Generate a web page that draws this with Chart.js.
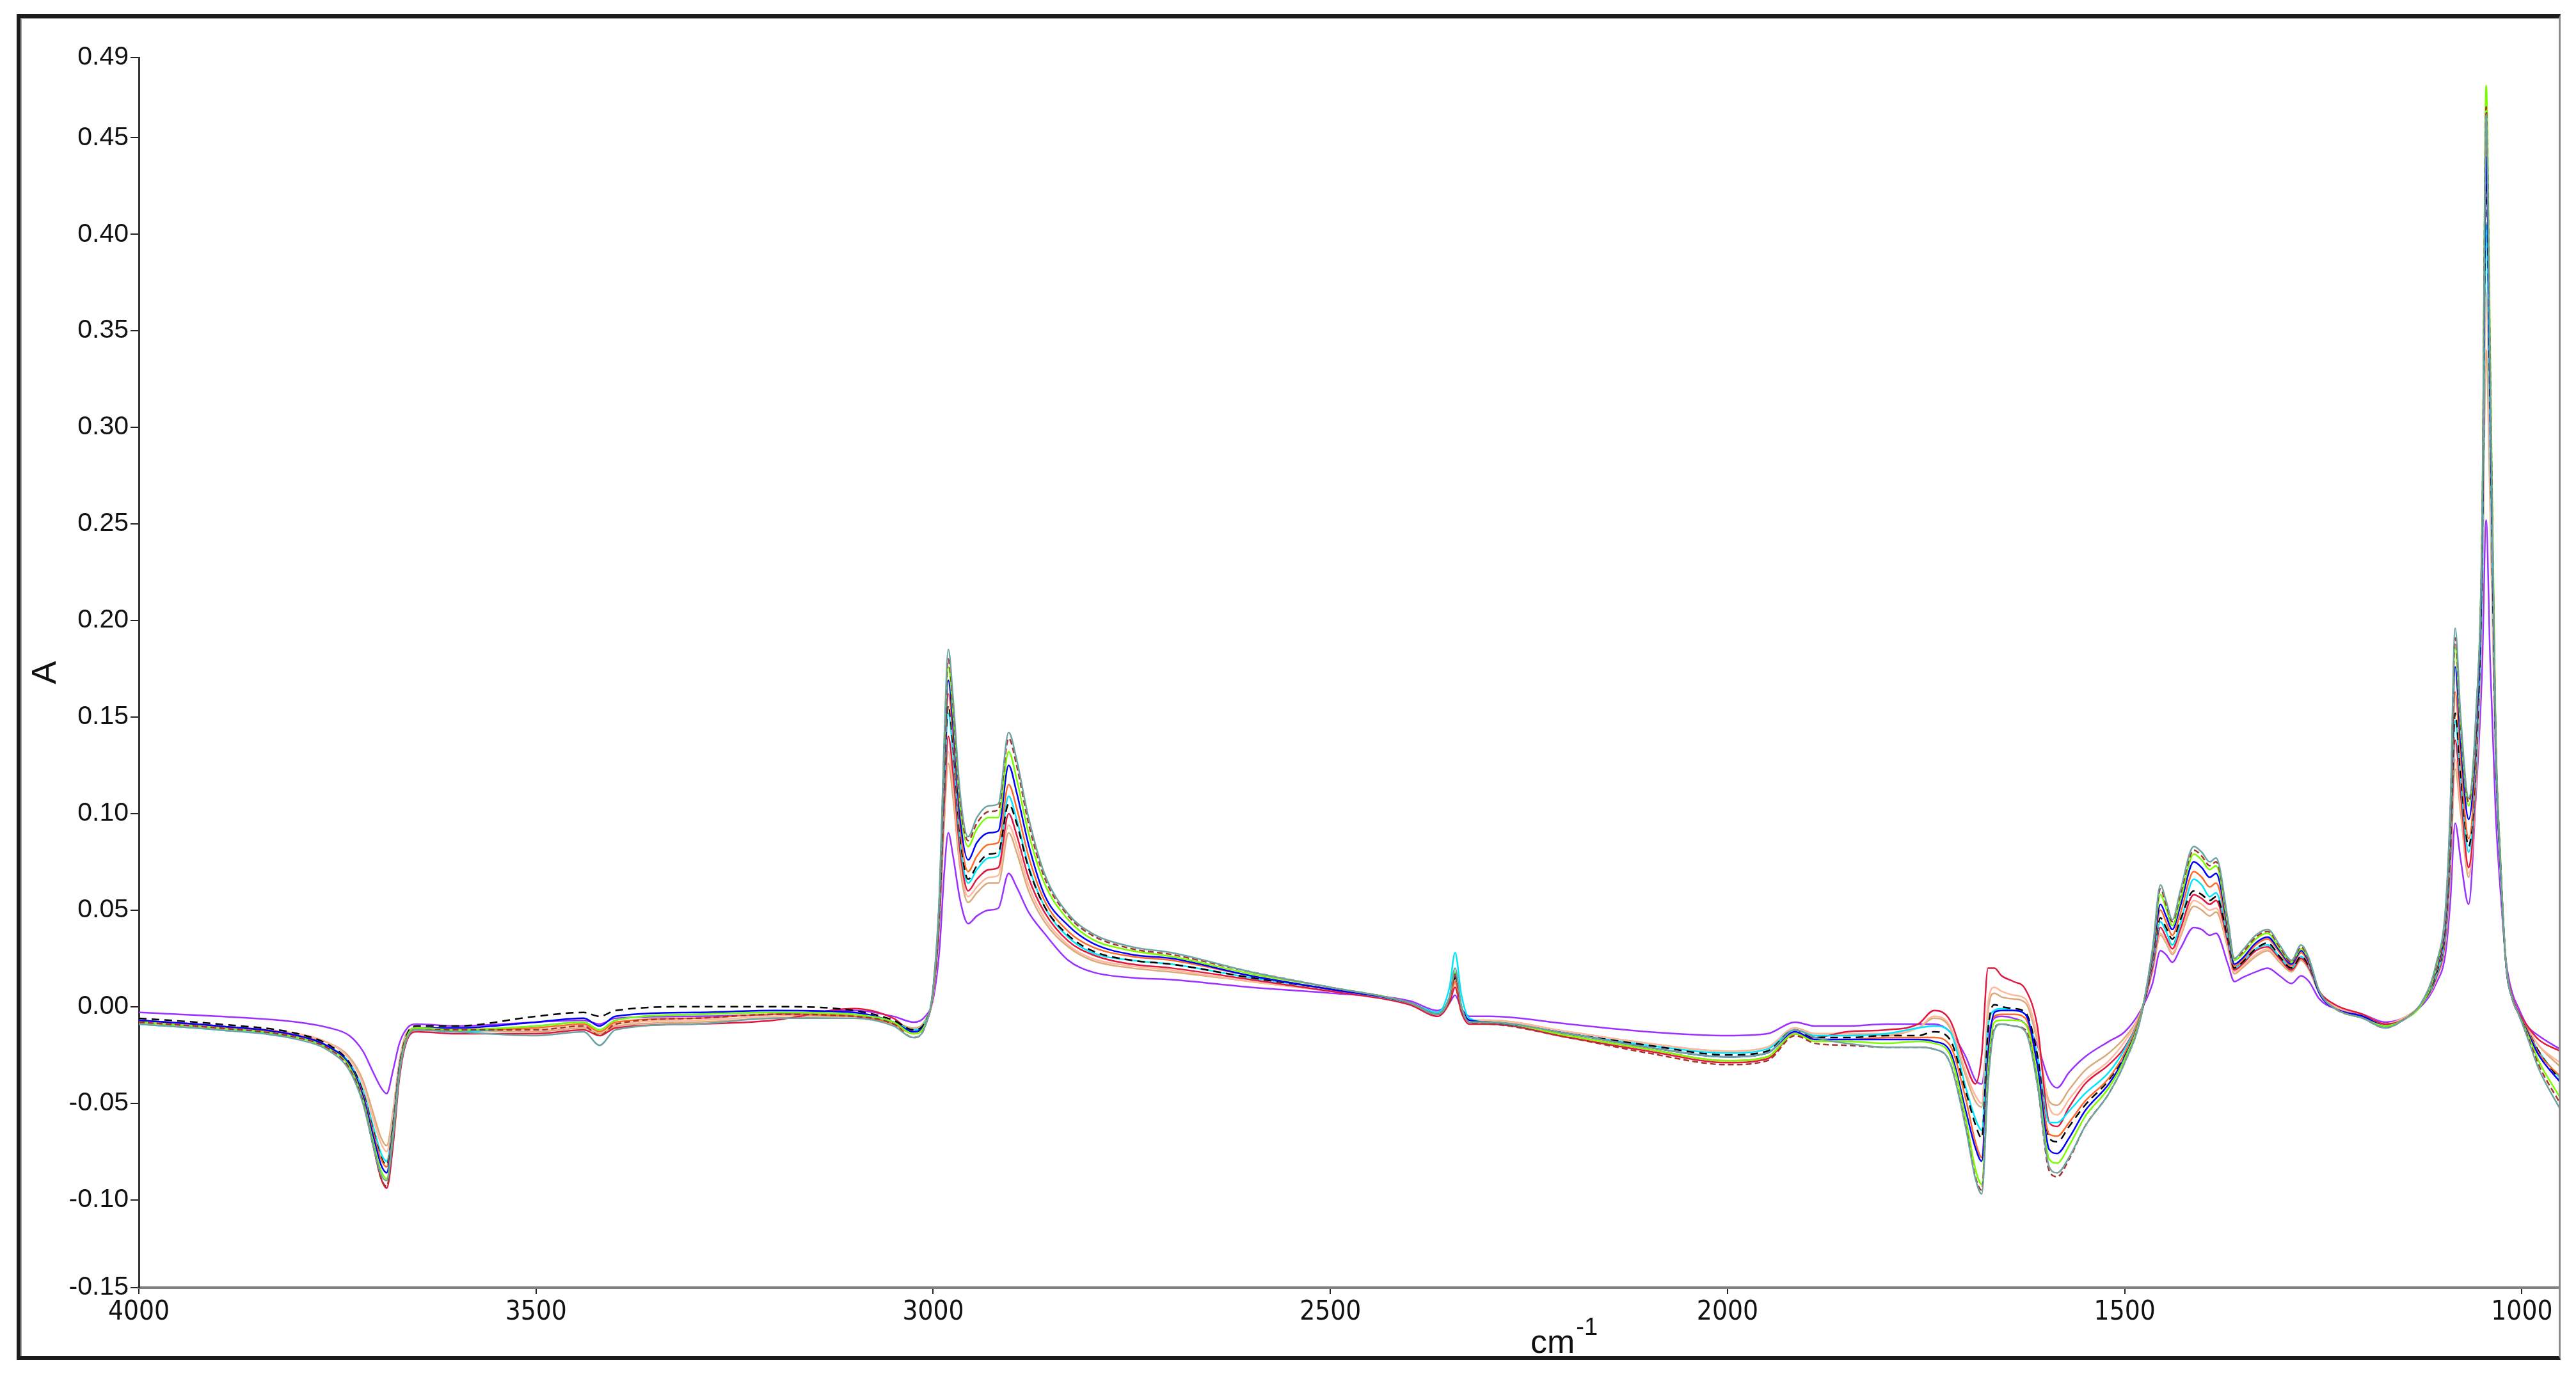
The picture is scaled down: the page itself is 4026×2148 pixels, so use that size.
<!DOCTYPE html>
<html>
<head>
<meta charset="utf-8">
<title>FTIR spectra</title>
<script src="https://cdn.jsdelivr.net/npm/chart.js@4.4.1/dist/chart.umd.min.js"></script>
<style>
  html, body { margin: 0; padding: 0; background: #fff; }
  #wrap { position: relative; width: 4026px; height: 2148px; }
  #spectra { position: absolute; left: 0; top: 0; }
  #frame {
    position: absolute; left: 26px; top: 22px; width: 3967px; height: 2092px;
    border-style: solid; border-width: 6px 3px 6px 6px;
    border-color: #1c1c1c #8c8c8c #1c1c1c #1c1c1c;
    box-shadow: inset 2px 2px 0 #a0a0a0;
    pointer-events: none;
  }
</style>
</head>
<body>
<div id="wrap">
  <canvas id="spectra" width="4026" height="2148"></canvas>
  <div id="frame"></div>
</div>
<script>
// wavenumbers (cm-1), shared by every spectrum
var wavenumbers = [
  4000, 3900, 3800, 3760, 3735, 3718, 3705, 3695, 3688, 3680,
  3672, 3662, 3650, 3600, 3500, 3440, 3420, 3400, 3300, 3200,
  3100, 3050, 3025, 3010, 3000, 2992, 2986, 2981, 2975, 2966,
  2956, 2945, 2930, 2918, 2905, 2895, 2880, 2860, 2830, 2800,
  2750, 2700, 2600, 2500, 2400, 2365, 2350, 2343, 2335, 2325,
  2300, 2200, 2100, 2000, 1950, 1915, 1890, 1850, 1800, 1760,
  1740, 1720, 1700, 1688, 1680, 1672, 1664, 1655, 1640, 1625,
  1610, 1595, 1585, 1570, 1550, 1520, 1500, 1480, 1465, 1455,
  1448, 1440, 1430, 1413, 1403, 1393, 1385, 1370, 1362, 1352,
  1335, 1320, 1305, 1290, 1278, 1268, 1255, 1235, 1200, 1172,
  1150, 1125, 1108, 1096, 1090, 1084, 1077, 1067, 1058, 1050,
  1045, 1040, 1033, 1027, 1020, 1012, 1005, 993, 979, 952
];

var tealSpec = [
  -0.009, -0.012, -0.017, -0.023, -0.033, -0.050, -0.072, -0.087, -0.090, -0.068,
  -0.035, -0.016, -0.012, -0.013, -0.015, -0.013, -0.020, -0.012, -0.009, -0.006,
  -0.006, -0.010, -0.016, -0.010, 0.010, 0.060, 0.140, 0.185, 0.160, 0.110,
  0.088, 0.098, 0.104, 0.105, 0.142, 0.128, 0.098, 0.069, 0.048, 0.038,
  0.031, 0.028, 0.018, 0.010, 0.002, -0.004, 0.005, 0.020, 0.000, -0.008,
  -0.008, -0.014, -0.021, -0.026, -0.024, -0.012, -0.016, -0.019, -0.021, -0.021,
  -0.022, -0.029, -0.063, -0.089, -0.097, -0.040, -0.012, -0.009, -0.010, -0.013,
  -0.040, -0.083, -0.086, -0.078, -0.062, -0.045, -0.029, -0.006, 0.030, 0.063,
  0.055, 0.045, 0.060, 0.083, 0.080, 0.075, 0.077, 0.045, 0.025, 0.029,
  0.037, 0.040, 0.032, 0.024, 0.032, 0.025, 0.008, -0.001, -0.006, -0.011,
  -0.007, 0.003, 0.022, 0.052, 0.105, 0.196, 0.150, 0.108, 0.150, 0.250,
  0.462, 0.330, 0.140, 0.075, 0.022, 0.004, -0.003, -0.016, -0.032, -0.053
];
var brownSpec = [
  -0.008, -0.011, -0.016, -0.022, -0.032, -0.049, -0.072, -0.089, -0.093, -0.070,
  -0.036, -0.016, -0.012, -0.012, -0.012, -0.010, -0.015, -0.009, -0.006, -0.004,
  -0.005, -0.009, -0.016, -0.010, 0.010, 0.058, 0.136, 0.180, 0.156, 0.106,
  0.086, 0.095, 0.101, 0.102, 0.139, 0.125, 0.095, 0.067, 0.047, 0.037,
  0.030, 0.027, 0.018, 0.010, 0.002, -0.004, 0.004, 0.016, -0.001, -0.008,
  -0.009, -0.016, -0.024, -0.030, -0.028, -0.015, -0.019, -0.020, -0.021, -0.021,
  -0.022, -0.029, -0.062, -0.088, -0.095, -0.038, -0.011, -0.009, -0.010, -0.012,
  -0.040, -0.085, -0.088, -0.079, -0.062, -0.045, -0.029, -0.006, 0.029, 0.061,
  0.053, 0.044, 0.058, 0.081, 0.078, 0.073, 0.075, 0.044, 0.025, 0.028,
  0.036, 0.039, 0.031, 0.023, 0.031, 0.024, 0.008, -0.001, -0.006, -0.011,
  -0.007, 0.003, 0.021, 0.050, 0.102, 0.191, 0.146, 0.106, 0.148, 0.250,
  0.466, 0.335, 0.142, 0.076, 0.022, 0.004, -0.003, -0.015, -0.030, -0.050
];
var greenSpec = [
  -0.008, -0.011, -0.016, -0.022, -0.031, -0.048, -0.070, -0.085, -0.089, -0.066,
  -0.034, -0.015, -0.011, -0.012, -0.010, -0.008, -0.012, -0.007, -0.004, -0.003,
  -0.004, -0.008, -0.014, -0.009, 0.009, 0.057, 0.133, 0.176, 0.152, 0.103,
  0.083, 0.092, 0.098, 0.098, 0.132, 0.118, 0.090, 0.064, 0.045, 0.035,
  0.029, 0.026, 0.017, 0.010, 0.002, -0.004, 0.005, 0.018, 0.000, -0.008,
  -0.008, -0.015, -0.022, -0.028, -0.026, -0.014, -0.018, -0.018, -0.019, -0.018,
  -0.019, -0.025, -0.058, -0.084, -0.092, -0.032, -0.008, -0.007, -0.007, -0.009,
  -0.036, -0.079, -0.081, -0.072, -0.057, -0.042, -0.027, -0.005, 0.028, 0.058,
  0.051, 0.042, 0.055, 0.079, 0.076, 0.071, 0.073, 0.042, 0.024, 0.027,
  0.035, 0.038, 0.030, 0.023, 0.030, 0.024, 0.008, -0.001, -0.006, -0.010,
  -0.007, 0.002, 0.020, 0.049, 0.099, 0.186, 0.143, 0.104, 0.146, 0.255,
  0.477, 0.345, 0.145, 0.077, 0.023, 0.004, -0.003, -0.014, -0.028, -0.047
];
var blueSpec = [
  -0.007, -0.010, -0.015, -0.021, -0.030, -0.046, -0.067, -0.082, -0.086, -0.064,
  -0.033, -0.015, -0.011, -0.011, -0.008, -0.006, -0.010, -0.005, -0.003, -0.002,
  -0.003, -0.008, -0.013, -0.009, 0.009, 0.055, 0.128, 0.169, 0.146, 0.097,
  0.076, 0.085, 0.090, 0.091, 0.125, 0.111, 0.084, 0.058, 0.042, 0.033,
  0.027, 0.025, 0.016, 0.009, 0.002, -0.004, 0.005, 0.017, 0.000, -0.007,
  -0.008, -0.014, -0.021, -0.026, -0.024, -0.013, -0.017, -0.017, -0.017, -0.017,
  -0.018, -0.023, -0.054, -0.073, -0.080, -0.025, -0.003, -0.002, -0.002, -0.004,
  -0.030, -0.074, -0.076, -0.068, -0.054, -0.040, -0.026, -0.005, 0.026, 0.053,
  0.047, 0.040, 0.052, 0.075, 0.072, 0.067, 0.069, 0.040, 0.022, 0.025,
  0.033, 0.036, 0.029, 0.022, 0.029, 0.023, 0.007, -0.001, -0.005, -0.010,
  -0.007, 0.002, 0.019, 0.046, 0.094, 0.176, 0.136, 0.097, 0.140, 0.240,
  0.440, 0.320, 0.138, 0.074, 0.022, 0.004, -0.003, -0.013, -0.025, -0.039
];
var orangeSpec = [
  -0.008, -0.011, -0.015, -0.021, -0.030, -0.045, -0.065, -0.079, -0.083, -0.062,
  -0.032, -0.015, -0.012, -0.012, -0.011, -0.009, -0.013, -0.008, -0.006, -0.004,
  -0.005, -0.009, -0.014, -0.009, 0.008, 0.053, 0.123, 0.162, 0.140, 0.092,
  0.070, 0.078, 0.084, 0.085, 0.115, 0.103, 0.078, 0.055, 0.039, 0.031,
  0.026, 0.024, 0.016, 0.009, 0.002, -0.004, 0.004, 0.013, -0.001, -0.008,
  -0.008, -0.015, -0.022, -0.028, -0.026, -0.014, -0.017, -0.017, -0.016, -0.016,
  -0.016, -0.020, -0.048, -0.070, -0.078, -0.022, -0.005, -0.004, -0.004, -0.006,
  -0.030, -0.066, -0.067, -0.060, -0.049, -0.037, -0.024, -0.004, 0.024, 0.050,
  0.044, 0.037, 0.048, 0.070, 0.067, 0.062, 0.064, 0.038, 0.021, 0.024,
  0.032, 0.035, 0.028, 0.021, 0.028, 0.022, 0.007, -0.001, -0.005, -0.010,
  -0.007, 0.002, 0.018, 0.043, 0.088, 0.163, 0.127, 0.087, 0.133, 0.245,
  0.455, 0.330, 0.140, 0.075, 0.022, 0.004, -0.003, -0.012, -0.024, -0.036
];
var blackSpec = [
  -0.006, -0.009, -0.014, -0.020, -0.029, -0.044, -0.064, -0.078, -0.082, -0.061,
  -0.031, -0.014, -0.010, -0.010, -0.005, -0.003, -0.005, -0.002, 0.000, 0.000,
  -0.002, -0.007, -0.012, -0.008, 0.008, 0.051, 0.118, 0.156, 0.135, 0.088,
  0.066, 0.073, 0.079, 0.080, 0.105, 0.095, 0.072, 0.052, 0.037, 0.029,
  0.024, 0.022, 0.015, 0.009, 0.002, -0.004, 0.004, 0.015, 0.000, -0.007,
  -0.008, -0.014, -0.020, -0.025, -0.023, -0.012, -0.016, -0.016, -0.015, -0.015,
  -0.013, -0.017, -0.044, -0.061, -0.068, -0.012, 0.001, 0.000, -0.001, -0.003,
  -0.025, -0.068, -0.070, -0.062, -0.051, -0.038, -0.025, -0.005, 0.023, 0.046,
  0.041, 0.035, 0.045, 0.060, 0.058, 0.055, 0.057, 0.035, 0.020, 0.023,
  0.030, 0.033, 0.026, 0.020, 0.026, 0.021, 0.007, -0.001, -0.005, -0.010,
  -0.007, 0.002, 0.017, 0.041, 0.083, 0.152, 0.120, 0.083, 0.128, 0.235,
  0.430, 0.310, 0.135, 0.073, 0.022, 0.004, -0.003, -0.012, -0.023, -0.038
];
var cyanSpec = [
  -0.009, -0.012, -0.016, -0.021, -0.029, -0.043, -0.062, -0.076, -0.080, -0.060,
  -0.031, -0.015, -0.012, -0.013, -0.010, -0.008, -0.012, -0.007, -0.004, -0.003,
  -0.004, -0.008, -0.012, -0.008, 0.008, 0.050, 0.115, 0.152, 0.131, 0.085,
  0.064, 0.071, 0.077, 0.078, 0.109, 0.097, 0.073, 0.052, 0.036, 0.028,
  0.024, 0.022, 0.015, 0.009, 0.002, -0.003, 0.010, 0.028, 0.006, -0.006,
  -0.008, -0.014, -0.020, -0.024, -0.022, -0.012, -0.015, -0.015, -0.014, -0.011,
  -0.010, -0.013, -0.042, -0.058, -0.064, -0.010, -0.002, -0.001, -0.002, -0.004,
  -0.025, -0.060, -0.060, -0.054, -0.045, -0.034, -0.022, -0.004, 0.022, 0.044,
  0.039, 0.032, 0.043, 0.066, 0.063, 0.057, 0.059, 0.035, 0.020, 0.023,
  0.030, 0.032, 0.026, 0.020, 0.026, 0.021, 0.007, -0.001, -0.005, -0.010,
  -0.007, 0.002, 0.016, 0.039, 0.080, 0.148, 0.117, 0.080, 0.124, 0.225,
  0.405, 0.300, 0.132, 0.072, 0.022, 0.004, -0.003, -0.012, -0.023, -0.037
];
var crimsonSpec = [
  -0.007, -0.010, -0.015, -0.021, -0.031, -0.048, -0.072, -0.089, -0.094, -0.072,
  -0.037, -0.017, -0.013, -0.014, -0.014, -0.012, -0.015, -0.011, -0.009, -0.007,
  -0.001, -0.006, -0.013, -0.009, 0.007, 0.047, 0.106, 0.140, 0.121, 0.080,
  0.060, 0.066, 0.071, 0.072, 0.100, 0.089, 0.067, 0.049, 0.034, 0.027,
  0.022, 0.020, 0.014, 0.008, 0.001, -0.005, 0.002, 0.010, -0.003, -0.009,
  -0.009, -0.016, -0.023, -0.029, -0.027, -0.014, -0.016, -0.013, -0.012, -0.009,
  -0.002, -0.007, -0.030, -0.040, -0.025, 0.020, 0.020, 0.016, 0.013, 0.009,
  -0.010, -0.060, -0.062, -0.052, -0.040, -0.030, -0.021, -0.004, 0.020, 0.041,
  0.036, 0.030, 0.040, 0.058, 0.056, 0.053, 0.055, 0.033, 0.019, 0.022,
  0.029, 0.031, 0.025, 0.019, 0.025, 0.020, 0.008, 0.001, -0.004, -0.009,
  -0.007, 0.002, 0.015, 0.037, 0.076, 0.138, 0.110, 0.072, 0.120, 0.240,
  0.447, 0.320, 0.138, 0.074, 0.023, 0.005, -0.002, -0.010, -0.017, -0.023
];
var salmonSpec = [
  -0.007, -0.010, -0.014, -0.019, -0.027, -0.040, -0.058, -0.071, -0.075, -0.056,
  -0.029, -0.014, -0.011, -0.011, -0.012, -0.010, -0.013, -0.009, -0.007, -0.005,
  -0.004, -0.008, -0.012, -0.008, 0.006, 0.045, 0.100, 0.132, 0.114, 0.075,
  0.057, 0.062, 0.067, 0.068, 0.094, 0.084, 0.063, 0.046, 0.032, 0.025,
  0.021, 0.019, 0.013, 0.008, 0.002, -0.004, 0.004, 0.012, -0.001, -0.007,
  -0.007, -0.013, -0.019, -0.023, -0.021, -0.011, -0.014, -0.014, -0.014, -0.011,
  -0.005, -0.010, -0.034, -0.046, -0.050, 0.002, 0.010, 0.008, 0.006, 0.004,
  -0.015, -0.052, -0.056, -0.048, -0.038, -0.028, -0.018, -0.003, 0.019, 0.038,
  0.034, 0.028, 0.037, 0.055, 0.053, 0.050, 0.051, 0.031, 0.018, 0.021,
  0.027, 0.030, 0.024, 0.019, 0.025, 0.020, 0.007, 0.000, -0.004, -0.009,
  -0.006, 0.002, 0.014, 0.035, 0.071, 0.128, 0.104, 0.069, 0.116, 0.215,
  0.370, 0.280, 0.128, 0.070, 0.022, 0.005, -0.002, -0.011, -0.020, -0.029
];
var tanSpec = [
  -0.008, -0.011, -0.015, -0.019, -0.026, -0.038, -0.055, -0.068, -0.072, -0.054,
  -0.028, -0.013, -0.011, -0.012, -0.013, -0.011, -0.014, -0.010, -0.008, -0.006,
  -0.005, -0.008, -0.011, -0.007, 0.006, 0.043, 0.096, 0.126, 0.108, 0.071,
  0.054, 0.059, 0.064, 0.064, 0.090, 0.080, 0.060, 0.044, 0.031, 0.024,
  0.020, 0.018, 0.013, 0.008, 0.002, -0.003, 0.004, 0.012, -0.001, -0.007,
  -0.007, -0.013, -0.019, -0.023, -0.021, -0.011, -0.014, -0.014, -0.015, -0.011,
  -0.006, -0.011, -0.036, -0.049, -0.052, -0.002, 0.007, 0.005, 0.004, 0.002,
  -0.018, -0.049, -0.051, -0.043, -0.033, -0.024, -0.016, -0.003, 0.018, 0.037,
  0.033, 0.027, 0.036, 0.052, 0.050, 0.047, 0.049, 0.030, 0.017, 0.020,
  0.026, 0.029, 0.023, 0.018, 0.024, 0.019, 0.007, 0.000, -0.004, -0.009,
  -0.006, 0.002, 0.014, 0.034, 0.068, 0.123, 0.100, 0.067, 0.112, 0.205,
  0.340, 0.260, 0.124, 0.068, 0.022, 0.005, -0.002, -0.011, -0.020, -0.031
];
var purpleSpec = [
  -0.003, -0.005, -0.008, -0.011, -0.015, -0.023, -0.034, -0.042, -0.045, -0.033,
  -0.019, -0.011, -0.009, -0.010, -0.008, -0.007, -0.009, -0.006, -0.005, -0.004,
  -0.002, -0.005, -0.008, -0.005, 0.004, 0.030, 0.070, 0.090, 0.078, 0.055,
  0.043, 0.047, 0.050, 0.051, 0.069, 0.062, 0.049, 0.038, 0.024, 0.018,
  0.015, 0.014, 0.010, 0.007, 0.003, -0.002, 0.002, 0.006, -0.001, -0.005,
  -0.005, -0.009, -0.013, -0.015, -0.014, -0.008, -0.010, -0.010, -0.009, -0.009,
  -0.009, -0.013, -0.026, -0.038, -0.040, -0.015, -0.006, -0.005, -0.006, -0.009,
  -0.020, -0.038, -0.042, -0.034, -0.026, -0.018, -0.013, -0.002, 0.012, 0.029,
  0.027, 0.023, 0.030, 0.041, 0.040, 0.037, 0.038, 0.022, 0.013, 0.015,
  0.018, 0.020, 0.016, 0.012, 0.016, 0.013, 0.004, -0.001, -0.004, -0.008,
  -0.006, 0.001, 0.012, 0.028, 0.055, 0.095, 0.076, 0.053, 0.108, 0.175,
  0.252, 0.180, 0.100, 0.060, 0.024, 0.007, 0.000, -0.010, -0.015, -0.022
];

var spectra = [tealSpec, brownSpec, greenSpec, blueSpec, orangeSpec, blackSpec,
               cyanSpec, crimsonSpec, salmonSpec, tanSpec, purpleSpec];
var spectrumColors = ['#6fa3a3', '#a8322d', '#7cfc00', '#0000ff', '#ff6a2a', '#000000',
                      '#00e5ff', '#e0173f', '#ffb89a', '#d9aa7a', '#9b30ff'];
var spectrumDashes = [[], [9, 5], [], [], [], [12, 8], [], [], [], [], []];

var xTickValues = [4000, 3500, 3000, 2500, 2000, 1500, 1000];
var yTickValues = [-0.1455, -0.10, -0.05, 0.00, 0.05, 0.10, 0.15, 0.20, 0.25, 0.30, 0.35, 0.40, 0.45, 0.4915];
var yTickLabels = ['-0.15', '-0.10', '-0.05', '0.00', '0.05', '0.10', '0.15', '0.20', '0.25', '0.30', '0.35', '0.40', '0.45', '0.49'];
var yTitle = 'A';
var xTitle = 'cm';
var xTitleSup = '-1';

var FONT = '"Liberation Sans", Arial, sans-serif';
var NARROW = '"Liberation Sans Narrow", "Arial Narrow", "DejaVu Sans Condensed", "Liberation Sans", sans-serif';

// x axis title with a real superscript, placed right of centre like the original
var axisTitlePlugin = {
    id: 'axisTitle',
    afterDraw: function (chart) {
        var ctx = chart.ctx;
        var area = chart.chartArea;
        var x0 = area.left + (area.right - area.left) * 0.5748;
        var base = area.bottom + 102;
        ctx.save();
        ctx.fillStyle = '#111';
        ctx.textAlign = 'left';
        ctx.textBaseline = 'alphabetic';
        ctx.font = '52px ' + FONT;
        ctx.fillText(xTitle, x0, base);
        var w = ctx.measureText(xTitle).width;
        ctx.font = '38px ' + FONT;
        ctx.fillText(xTitleSup, x0 + w + 2, base - 28);
        ctx.restore();
    }
};

var datasets = spectra.map(function (values, i) {
    return {
        label: 'Spectrum ' + (i + 1),
        data: wavenumbers.map(function (wn, j) { return { x: wn, y: values[j] }; }),
        borderColor: spectrumColors[i],
        borderDash: spectrumDashes[i],
        borderWidth: 2.5,
        pointRadius: 0,
        fill: false,
        cubicInterpolationMode: 'monotone'
    };
});

var ctx = document.getElementById('spectra').getContext('2d');
var spectraChart = new Chart(ctx, {
    type: 'line',
    data: { datasets: datasets },
    plugins: [axisTitlePlugin],
    options: {
        responsive: false,
        animation: false,
        devicePixelRatio: 1,
        layout: { padding: { left: 40, top: 90, right: 25, bottom: 25 } },
        plugins: {
            legend: { display: false },
            tooltip: { enabled: false }
        },
        scales: {
            x: {
                type: 'linear',
                reverse: true,
                min: 952,
                max: 4000,
                afterBuildTicks: function (scale) {
                    scale.ticks = xTickValues.map(function (v) { return { value: v }; });
                },
                afterFit: function (scale) { scale.height = 110; },
                ticks: {
                    autoSkip: false,
                    maxRotation: 0,
                    padding: 4,
                    color: '#111',
                    font: { family: NARROW, size: 42 },
                    callback: function (v) { return String(v); }
                },
                grid: { drawOnChartArea: false, drawTicks: true, tickLength: 10, color: '#222', lineWidth: 2 },
                border: { display: true, color: '#808080', width: 4 }
            },
            y: {
                min: -0.1455,
                max: 0.4915,
                afterBuildTicks: function (scale) {
                    scale.ticks = yTickValues.map(function (v) { return { value: v }; });
                },
                afterFit: function (scale) { scale.width = 177; },
                ticks: {
                    autoSkip: false,
                    padding: 3,
                    color: '#111',
                    font: { family: FONT, size: 41 },
                    callback: function (v, i) { return yTickLabels[i]; }
                },
                grid: { drawOnChartArea: false, drawTicks: true, tickLength: 13, color: '#222', lineWidth: 2 },
                border: { display: true, color: '#333', width: 3 },
                title: {
                    display: true,
                    text: yTitle,
                    color: '#111',
                    font: { family: FONT, size: 54 },
                    padding: { top: 0, bottom: 0 }
                }
            }
        }
    }
});
</script>
</body>
</html>
